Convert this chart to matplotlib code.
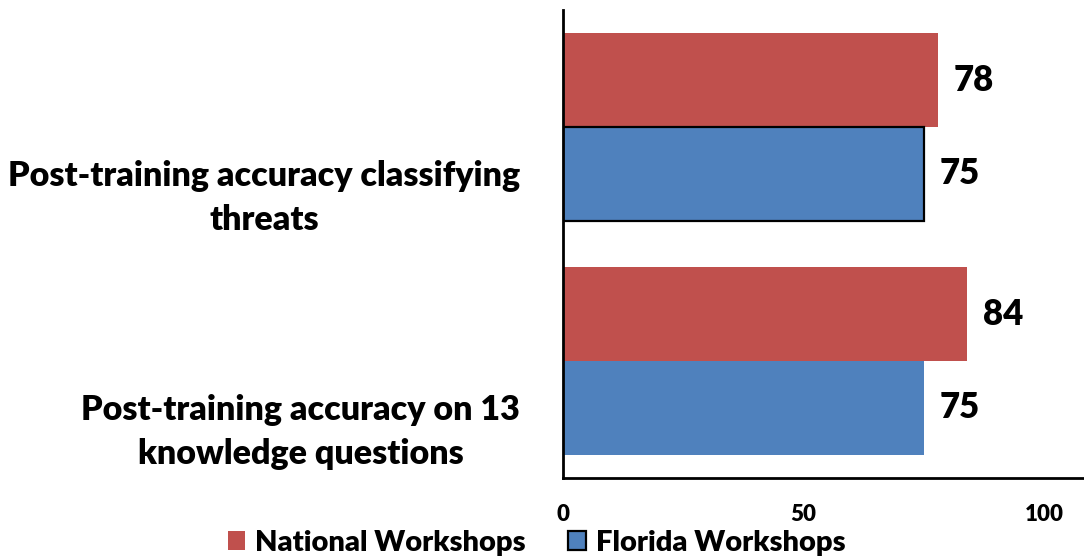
import numpy as np
import matplotlib
matplotlib.use("Agg")
import matplotlib.pyplot as plt
from matplotlib.patches import Patch

plt.rcParams['font.family'] = ['Lato', 'DejaVu Sans']
plt.rcParams['font.weight'] = 'heavy'
W = 'heavy'

categories = ["Post-training accuracy on 13\nknowledge questions",
              "Post-training accuracy classifying\nthreats"]
national = [84, 78]
florida = [75, 75]
series_names = ["National Workshops", "Florida Workshops"]
xticks = [0, 50, 100]

red = "#C0504D"
blue = "#4F81BD"

fig = plt.figure(figsize=(10.84, 5.59), dpi=100)
ax = fig.add_axes([563 / 1084, 1 - 478 / 559, 1 - 563 / 1084, (478 - 10) / 559])

y = np.arange(len(categories))
h = 0.4
ax.barh(y + h / 2, national, height=h, color=red)
# only the upper Florida bar has an outline in the original
fl_edges = ['none', 'black']
for yi, v, ec in zip(y, florida, fl_edges):
    ax.barh(yi - h / 2, v, height=h, color=blue, edgecolor=ec, linewidth=1.6)

for yi, v in zip(y, national):
    ax.text(v + 3.3, yi + h / 2, str(v), va='center', ha='left', fontsize=25, fontweight=W)
for yi, v in zip(y, florida):
    ax.text(v + 3.3, yi - h / 2, str(v), va='center', ha='left', fontsize=25, fontweight=W)

ax.set_xlim(0, 108.3)
ax.set_ylim(-0.5, 1.5)
ax.set_xticks(xticks)
ax.set_xticklabels([str(t) for t in xticks], fontsize=16, fontweight=W)
ax.set_yticks(y - 0.265)
ax.set_yticklabels(categories, fontsize=24.5, fontweight=W, multialignment='center',
                   linespacing=1.45)
ax.tick_params(length=0)
ax.tick_params(axis='x', pad=19)
ax.tick_params(axis='y', pad=31)

for s in ['top', 'right']:
    ax.spines[s].set_visible(False)
for s in ['left', 'bottom']:
    ax.spines[s].set_linewidth(2)
    ax.spines[s].set_color('black')

handles = [Patch(facecolor=red, edgecolor='none'),
           Patch(facecolor=blue, edgecolor='black', linewidth=1.6)]
fig.legend(handles, series_names, loc='center', bbox_to_anchor=(0.495, 1 - 543 / 559),
           ncol=2, frameon=False, fontsize=21, handlelength=0.6, handleheight=0.6,
           handletextpad=0.35, columnspacing=1.45, borderpad=0)

fig.savefig("out.png", dpi=100)
